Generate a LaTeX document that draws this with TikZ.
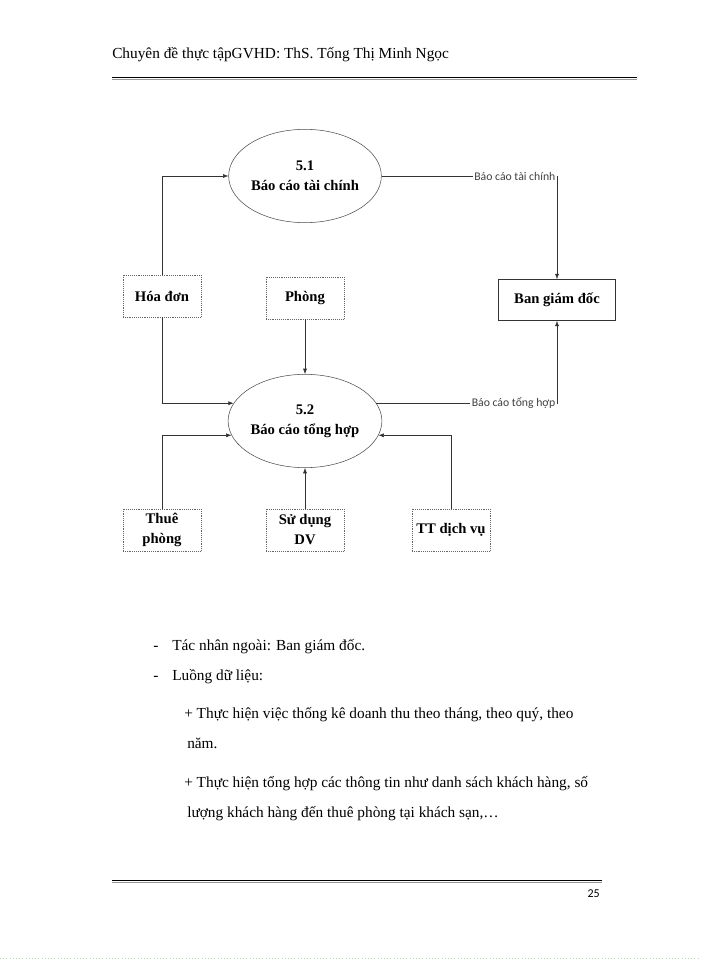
\documentclass[tikz,border=0pt]{standalone}
\usepackage{fontspec}
\setmainfont{Liberation Serif}
\newfontfamily\labelfont{Carlito}
\usetikzlibrary{shapes.geometric,arrows.meta}

\tikzset{
  process/.style={ellipse, draw=black!70, inner sep=0pt, minimum width=101pt, minimum height=70pt,
    align=center, font=\fontsize{11}{15}\selectfont\bfseries},
  store/.style={draw=black!60, densely dotted, minimum width=58.5pt, minimum height=31.5pt,
    inner sep=1pt, align=center, font=\fontsize{11}{15}\selectfont\bfseries},
  entity/.style={draw=black!80, minimum width=87.75pt, minimum height=30.75pt,
    font=\fontsize{11}{14}\selectfont\bfseries},
  flow/.style={draw=black!80, -{Latex[length=4pt,width=3pt]}},
  flowlabel/.style={fill=white, inner sep=1pt, text=black!75, font=\labelfont\fontsize{8.8}{10}\selectfont},
  bodytext/.style={anchor=base west, inner sep=0pt, font=\fontsize{11.5}{14}\selectfont},
}

\begin{document}
\begin{tikzpicture}[x=0.75pt,y=-0.75pt]
\useasboundingbox (0,0) rectangle (700,960);

% Header
\node[bodytext] (header) at (112,58) {Chuyên đề thực tậpGVHD: ThS. Tống Thị Minh Ngọc};
\draw[line width=0.8pt] (112,77.5) -- (637,77.5);
\draw[black!40] (112,79) -- (637,79);

% Processes
\node[process] (p51) at (305,176) {5.1\\Báo cáo tài chính};
\node[process] (p52) at (305,421) {5.2\\Báo cáo tổng hợp};

% Stores
\node[store] (hoadon) at (162,296) {Hóa đơn};
\node[store] (phong) at (305,298) {Phòng};
\node[store] (thue) at (162,530) {Thuê\\phòng};
\node[store] (sudung) at (305,530) {Sử dụng\\DV};
\node[store] (ttdv) at (451,530) {TT dịch vụ};

% Entity
\node[entity] (bgd) at (557,300) {Ban giám đốc};

% Flows
\draw[flow] (hoadon.north) |- (p51.west);
\draw[flow] (hoadon.south) |- (p52.166);
\draw[flow] (phong) -- (p52);
\draw[flow] (thue.north) |- (p52.191);
\draw[flow] (sudung) -- (p52);
\draw[flow] (ttdv.north) |- (p52.349);
\draw[flow] (p51.east) -| node[flowlabel, pos=0.5, left]{Báo cáo tài chính} (bgd.north);
\draw[flow] (p52.14) -| node[flowlabel, pos=0.5, left]{Báo cáo tổng hợp} (bgd.south);

% Text
\node[bodytext] (dash1) at (153,650) {-};
\node[bodytext] (actor) at (172,650) {Tác nhân ngoài: Ban giám đốc.};
\node[bodytext] (dash2) at (153,680) {-};
\node[bodytext] (data) at (172,680) {Luồng dữ liệu:};
\node[bodytext] (item1) at (184,718) {+ Thực hiện việc thống kê doanh thu theo tháng, theo quý, theo};
\node[bodytext] (item1b) at (187,748) {năm.};
\node[bodytext] (item2) at (184,787) {+ Thực hiện tổng hợp các thông tin như danh sách khách hàng, số};
\node[bodytext] (item2b) at (187,817) {lượng khách hàng đến thuê phòng tại khách sạn,…};

% Footer
\draw[line width=0.8pt] (112,880.5) -- (602,880.5);
\draw[black!40] (112,882.5) -- (602,882.5);
\node[anchor=base east, inner sep=0pt, font=\labelfont\fontsize{9}{10}\selectfont] (pagenum) at (600,897) {25};
\draw[green!50!black!30, dotted] (0,958.5) -- (700,958.5);

\end{tikzpicture}
\end{document}
